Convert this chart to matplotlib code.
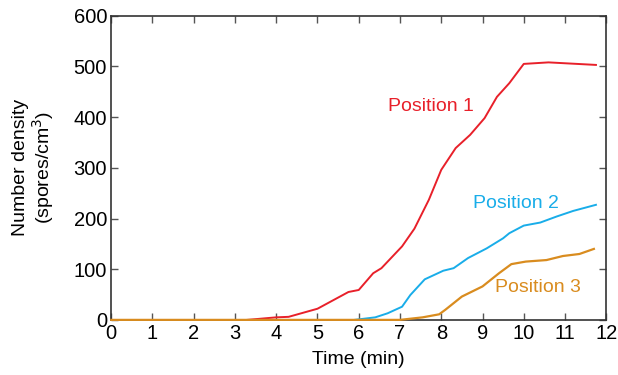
import matplotlib.pyplot as plt

plt.rcParams["font.family"] = ["Liberation Sans", "DejaVu Sans"]

# time (min) and number density (spores/cm^3)
t1 = [3.3, 4.0, 4.3, 5.0, 5.75, 6.0, 6.35, 6.55, 7.05, 7.35, 7.7, 8.0, 8.35, 8.7,
      9.05, 9.35, 9.65, 10.0, 10.6, 11.75]
pos1 = [0, 5, 6, 22, 55, 59, 92, 102, 145, 180, 237, 296, 339, 365,
        398, 440, 467, 505, 508, 503]

t2 = [5.9, 6.4, 6.7, 7.05, 7.25, 7.6, 8.05, 8.3, 8.65, 9.1, 9.5, 9.65, 10.0,
      10.4, 10.8, 11.2, 11.75]
pos2 = [0, 5, 13, 26, 49, 80, 97, 102, 122, 141, 161, 171, 186,
        192, 204, 215, 227]

t3 = [0, 7.0, 7.55, 7.95, 8.1, 8.5, 9.0, 9.4, 9.7, 10.05, 10.55, 10.95, 11.35, 11.7]
pos3 = [0, 0, 5, 11, 20, 46, 66, 92, 110, 115, 118, 126, 130, 140]

RED = "#e8202a"
BLUE = "#19ade9"
ORANGE = "#d98c1f"

fig = plt.figure(figsize=(6.18, 3.75), dpi=100)
ax = fig.add_axes([0.18, 0.147, 0.801, 0.811])

ax.plot(t1, pos1, color=RED, lw=1.4, zorder=3, clip_on=False)
ax.plot(t2, pos2, color=BLUE, lw=1.4, zorder=3, clip_on=False)
ax.plot(t3, pos3, color=ORANGE, lw=1.6, zorder=4, clip_on=False)

ax.text(7.75, 420, "Position 1", color=RED, fontsize=14, ha="center", va="center")
ax.text(9.8, 229, "Position 2", color=BLUE, fontsize=14, ha="center", va="center")
ax.text(10.35, 63, "Position 3", color=ORANGE, fontsize=14, ha="center", va="center")

ax.set_xlim(0, 12)
ax.set_ylim(0, 600)
ax.set_xticks(range(0, 13))
ax.set_yticks(range(0, 601, 100))
ax.tick_params(direction="in", length=5, width=1, color="#555555",
               top=True, right=True, labelsize=14.5, pad=3)
for s in ax.spines.values():
    s.set_color("#333333")
    s.set_linewidth(1.2)

ax.set_xlabel("Time (min)", fontsize=14, labelpad=6)
ax.set_ylabel("Number density\n(spores/cm$^3$)", fontsize=14, labelpad=13,
              linespacing=1.05)

fig.savefig("out.png", dpi=100)
